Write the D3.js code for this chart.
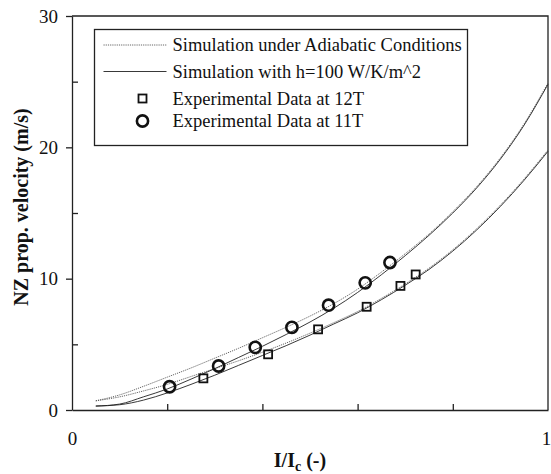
<!DOCTYPE html>
<html>
<head>
<meta charset="utf-8">
<script src="https://cdn.jsdelivr.net/npm/d3@7"></script>
<style>
  body { margin: 0; background: #fff; }
  svg { display: block; font-family: "Liberation Serif", "Times New Roman", serif; }
</style>
</head>
<body>
<div class="chart"></div>
<script>
'use strict';

// Simulation curves, I/Ic grid
const current = [0.05, 0.1, 0.15, 0.2, 0.25, 0.3, 0.35, 0.4, 0.45, 0.5, 0.55, 0.6, 0.65, 0.7, 0.75, 0.8, 0.85, 0.9, 0.95, 1.0];
const adiabatic11 = [0.70, 1.15, 1.80, 2.50, 3.20, 3.95, 4.70, 5.50, 6.30, 7.15, 8.10, 9.20, 10.50, 11.90, 13.40, 15.10, 17.00, 19.20, 21.80, 24.90];
const cooled11 = [0.30, 0.45, 1.00, 1.60, 2.35, 3.15, 4.00, 4.85, 5.75, 6.70, 7.75, 8.95, 10.30, 11.75, 13.30, 15.00, 16.90, 19.10, 21.70, 24.80];
const adiabatic12 = [0.70, 1.00, 1.45, 1.95, 2.55, 3.15, 3.75, 4.40, 5.10, 5.85, 6.65, 7.50, 8.50, 9.60, 10.80, 12.20, 13.80, 15.60, 17.60, 19.80];
const cooled12 = [0.30, 0.40, 0.75, 1.30, 1.95, 2.65, 3.40, 4.15, 4.90, 5.70, 6.55, 7.40, 8.40, 9.50, 10.70, 12.10, 13.70, 15.50, 17.50, 19.70];

// Experimental data
const exp12x = [0.276, 0.412, 0.517, 0.619, 0.690, 0.722];
const exp12y = [2.41, 4.24, 6.14, 7.86, 9.45, 10.32];
const exp11x = [0.205, 0.308, 0.385, 0.462, 0.539, 0.616, 0.668];
const exp11y = [1.77, 3.35, 4.77, 6.29, 7.98, 9.68, 11.23];

const legendLabels = [
  "Simulation under Adiabatic Conditions",
  "Simulation with h=100 W/K/m^2",
  "Experimental Data at 12T",
  "Experimental Data at 11T"
];
const yMajor = [0, 10, 20, 30];
const yMinor = [5, 15, 25];
const xTicks = [0.2, 0.4, 0.6, 0.8];
const xLabels = [0, 1];

const margin = {top: 16, left: 72, right: 3, bottom: 64};
const w = 551 - margin.left - margin.right;
const h = 474 - margin.top - margin.bottom;

const svg = d3.select(".chart")
  .append("svg")
  .attr("width", 551)
  .attr("height", 474)
  .append("g")
  .attr("transform", `translate(${margin.left},${margin.top})`);

const x = d3.scaleLinear().domain([0, 1]).range([0, w]);
const y = d3.scaleLinear().domain([0, 30]).range([h, 0]);

// frame (top and right)
svg.append("path")
  .attr("d", `M0,0H${w}V${h}`)
  .attr("fill", "none")
  .attr("stroke", "#222")
  .attr("stroke-width", 1.3);

// y axis: labelled ticks outward, minor ticks inward
svg.append("g")
  .call(d3.axisLeft(y).tickValues(yMajor).tickSize(6).tickSizeOuter(0).tickPadding(8));
svg.append("g")
  .call(d3.axisLeft(y).tickValues(yMinor).tickSize(-6).tickSizeOuter(0).tickFormat(""))
  .select(".domain").remove();

// x axis: ticks inward, labels only at 0 and 1
svg.append("g")
  .attr("transform", `translate(0,${h})`)
  .call(d3.axisBottom(x).tickValues(xTicks).tickSize(-6).tickSizeOuter(0).tickFormat(""));
const xLab = svg.append("g")
  .attr("transform", `translate(0,${h})`)
  .call(d3.axisBottom(x).tickValues(xLabels).tickSize(0).tickPadding(22).tickFormat(d3.format("d")));
xLab.select(".domain").remove();
xLab.selectAll(".tick text").filter(d => d === 1).attr("dx", -2);

svg.selectAll(".domain, .tick line").attr("stroke", "#222").attr("stroke-width", 1.3);
svg.selectAll(".tick text")
  .attr("font-family", "'Liberation Serif', 'Times New Roman', serif")
  .attr("font-size", 19)
  .attr("fill", "#111");

// axis titles
svg.append("text")
  .attr("transform", `translate(-44,${y(15) - 6}) rotate(-90)`)
  .attr("text-anchor", "middle")
  .attr("font-size", 20)
  .attr("font-weight", "bold")
  .attr("fill", "#111")
  .text("NZ prop. velocity  (m/s)");

const xt = svg.append("text")
  .attr("x", x(0.5) - 10)
  .attr("y", h + 57)
  .attr("text-anchor", "middle")
  .attr("font-size", 20)
  .attr("font-weight", "bold")
  .attr("fill", "#111");
xt.append("tspan").text("I/I");
xt.append("tspan").attr("font-size", 14).attr("dy", 4).text("c");
xt.append("tspan").attr("dy", -4).text(" (-)");

// curves
const line = d3.line()
  .x(d => x(d[0]))
  .y(d => y(d[1]))
  .curve(d3.curveMonotoneX);

const curves = [
  {values: adiabatic11, dash: "1.2,1", color: "#555"},
  {values: adiabatic12, dash: "1.2,1", color: "#555"},
  {values: cooled11, dash: null, color: "#222"},
  {values: cooled12, dash: null, color: "#222"}
];
svg.selectAll("path.curve")
  .data(curves)
  .enter()
  .append("path")
  .attr("class", "curve")
  .attr("d", c => line(current.map((v, i) => [v, c.values[i]])))
  .attr("fill", "none")
  .attr("stroke", c => c.color)
  .attr("stroke-width", 0.9)
  .attr("stroke-dasharray", c => c.dash);

// experimental markers
const sq = 8;
svg.selectAll("rect.exp12")
  .data(exp12x.map((v, i) => [v, exp12y[i]]))
  .enter()
  .append("rect")
  .attr("class", "exp12")
  .attr("x", d => x(d[0]) - sq / 2)
  .attr("y", d => y(d[1]) - sq / 2)
  .attr("width", sq)
  .attr("height", sq)
  .attr("fill", "none")
  .attr("stroke", "#111")
  .attr("stroke-width", 1.8);

svg.selectAll("circle.exp11")
  .data(exp11x.map((v, i) => [v, exp11y[i]]))
  .enter()
  .append("circle")
  .attr("class", "exp11")
  .attr("cx", d => x(d[0]))
  .attr("cy", d => y(d[1]))
  .attr("r", 5.6)
  .attr("fill", "none")
  .attr("stroke", "#111")
  .attr("stroke-width", 2.6);

// legend
const legend = svg.append("g")
  .attr("transform", `translate(${94.5 - margin.left},${29.5 - margin.top})`);
legend.append("rect")
  .attr("width", 373)
  .attr("height", 116)
  .attr("fill", "#fff")
  .attr("stroke", "#222")
  .attr("stroke-width", 1.3);

const rowY = [15.5, 42, 69, 91.5];
legend.append("line")
  .attr("x1", 9).attr("x2", 72).attr("y1", rowY[0]).attr("y2", rowY[0])
  .attr("stroke", "#555").attr("stroke-width", 0.9).attr("stroke-dasharray", "1.2,1");
legend.append("line")
  .attr("x1", 9).attr("x2", 72).attr("y1", rowY[1]).attr("y2", rowY[1])
  .attr("stroke", "#222").attr("stroke-width", 0.9);
legend.append("rect")
  .attr("x", 48 - sq / 2).attr("y", rowY[2] - sq / 2)
  .attr("width", sq).attr("height", sq)
  .attr("fill", "none").attr("stroke", "#111").attr("stroke-width", 1.8);
legend.append("circle")
  .attr("cx", 48).attr("cy", rowY[3]).attr("r", 5.6)
  .attr("fill", "none").attr("stroke", "#111").attr("stroke-width", 2.6);

legend.selectAll("text")
  .data(legendLabels)
  .enter()
  .append("text")
  .attr("x", 78)
  .attr("y", (d, i) => rowY[i] + 6)
  .attr("font-size", 18.5)
  .attr("fill", "#111")
  .text(d => d);
</script>
</body>
</html>
